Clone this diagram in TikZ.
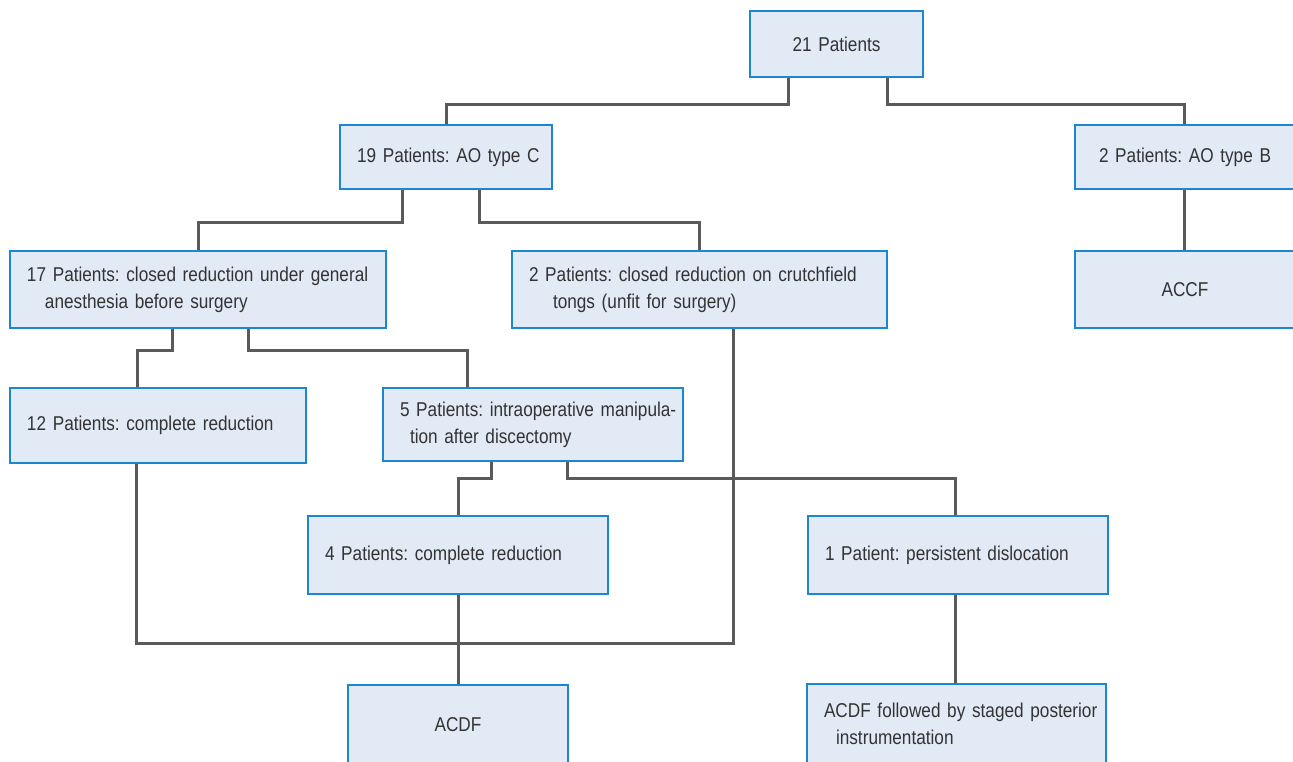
\documentclass[tikz,border=0pt]{standalone}
\usepackage{fontspec}
\setmainfont{Liberation Sans}[FakeStretch=0.86]
\usetikzlibrary{backgrounds}
\definecolor{boxfill}{HTML}{E1EAF5}
\definecolor{boxline}{HTML}{1B87CF}
\definecolor{connc}{HTML}{5A5A5A}
\definecolor{txt}{HTML}{333333}
\tikzset{
  box/.style={draw=boxline, fill=boxfill, line width=2pt, anchor=north west,
    inner xsep=17pt, inner ysep=0pt, text=txt,
    font=\fontsize{20pt}{27pt}\selectfont\frenchspacing},
  lbox/.style={box, align=left},
  cbox/.style={box, align=center},
  conn/.style={draw=connc, line width=3pt}
}
\begin{document}
\frenchspacing
\begin{tikzpicture}[x=1pt,y=1pt]
\useasboundingbox (0,0) rectangle (1293,-761);
\node[cbox, text width=139pt, minimum height=66pt] (p21) at (749,-10) {21 Patients};
\node[lbox, text width=178pt, minimum height=64pt] (c19) at (339,-124) {\mbox{19 Patients: AO type C}};
\node[cbox, text width=186pt, minimum height=64pt] (b2) at (1074,-124) {\mbox{2 Patients: AO type B}};
\node[lbox, text width=342pt, minimum height=77pt] (c17) at (9,-250) {\mbox{17 Patients: closed reduction under general}\\\hspace*{18pt}anesthesia before surgery};
\node[lbox, text width=341pt, minimum height=77pt] (c2) at (511,-250) {\mbox{2 Patients: closed reduction on crutchfield}\\\hspace*{24pt}tongs (unfit for surgery)};
\node[cbox, text width=186pt, minimum height=77pt] (accf) at (1074,-250) {ACCF};
\node[lbox, text width=262pt, minimum height=75pt] (p12) at (9,-387) {\mbox{12 Patients: complete reduction}};
\node[lbox, text width=266pt, minimum height=73pt] (p5) at (382,-387) {\mbox{5 Patients: intraoperative manipula-}\\\hspace*{10pt}tion after discectomy};
\node[lbox, text width=266pt, minimum height=78pt] (p4) at (307,-515) {\mbox{4 Patients: complete reduction}};
\node[lbox, text width=266pt, minimum height=78pt] (p1) at (807,-515) {\mbox{1 Patient: persistent dislocation}};
\node[cbox, text width=186pt, minimum height=80pt] (acdf) at (347,-684) {ACDF};
\node[lbox, text width=265pt, minimum height=80pt] (acdf2) at (806,-683) {\mbox{ACDF followed by staged posterior}\\\hspace*{12pt}instrumentation};
\coordinate (j) at (457,-643);
\begin{scope}[on background layer]
\draw[conn] ([xshift=39pt]p21.south west) -- ++(0,-26) -| (c19.north);
\draw[conn] ([xshift=-37pt]p21.south east) -- ++(0,-26) -| ([xshift=-1pt]b2.north);
\draw[conn] ([xshift=63pt]c19.south west) -- ++(0,-32) -| (c17.north);
\draw[conn] ([xshift=-74pt]c19.south east) -- ++(0,-32) -| (c2.north);
\draw[conn] ([xshift=-1pt]b2.south) -- ([xshift=-1pt]accf.north);
\draw[conn] ([xshift=163pt]c17.south west) -- ++(0,-21) -| ([xshift=128pt]p12.north west);
\draw[conn] ([xshift=239pt]c17.south west) -- ++(0,-21) -| ([xshift=85pt]p5.north west);
\draw[conn] ([xshift=109pt]p5.south west) -- ++(0,-16) -| (p4.north);
\draw[conn] ([xshift=185pt]p5.south west) -- ++(0,-16) -| ([xshift=-3pt]p1.north);
\draw[conn] (p4.south) -- (acdf.north);
\draw[conn] ([xshift=-3pt]p1.south) -- ([xshift=-3pt]p1.south |- acdf2.north);
\draw[conn] ([xshift=127pt]p12.south west) |- (j) -| ([xshift=222pt]c2.south west);
\end{scope}
\end{tikzpicture}
\end{document}
